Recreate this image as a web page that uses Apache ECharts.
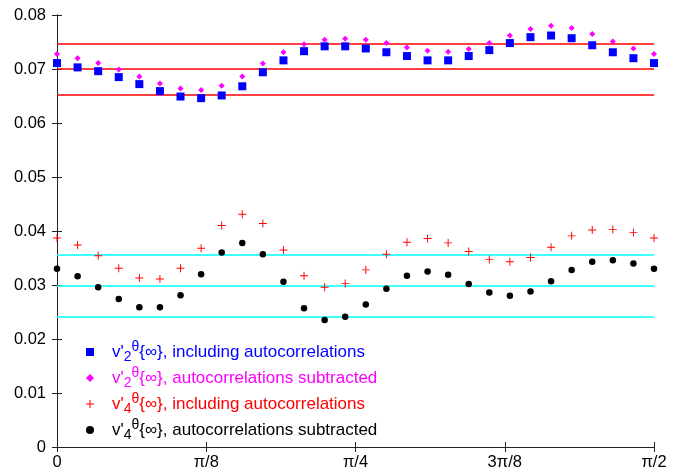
<!DOCTYPE html>
<html>
<head>
<meta charset="utf-8">
<script src="https://cdn.jsdelivr.net/npm/echarts@6/dist/echarts.min.js"></script>
<style>html,body{margin:0;padding:0;background:#fff}#c{width:676px;height:475px}</style>
</head>
<body>
<div id="c"></div>
<script>
// x tick labels (axis in units of pi/8)
var xTickLabels = ['0', 'π/8', 'π/4', '3π/8', 'π/2'];
var nPoints = 30;
// v'2 including autocorrelations (blue squares)
var v2Incl = [0.0711,0.0703,0.0696,0.0685,0.0672,0.0659,0.0649,0.0646,0.0651,0.0668,0.0694,0.0716,0.0733,0.0742,
              0.0742,0.0738,0.0731,0.0724,0.0716,0.0716,0.0724,0.0735,0.0748,0.0759,0.0762,0.0757,0.0744,0.0731,0.0720,0.0711];
// v'2 autocorrelations subtracted (magenta diamonds)
var v2Sub = [0.0728,0.0720,0.0711,0.0699,0.0686,0.0673,0.0664,0.0661,0.0669,0.0686,0.0710,0.0731,0.0746,0.0754,
             0.0756,0.0754,0.0748,0.0740,0.0734,0.0732,0.0737,0.0748,0.0762,0.0774,0.0780,0.0776,0.0765,0.0751,0.0738,0.0728];
// v'4 including autocorrelations (red crosses)
var v4Incl = [0.0387,0.0374,0.0354,0.0331,0.0313,0.0311,0.0331,0.0368,0.0410,0.0431,0.0414,0.0365,0.0317,0.0296,
              0.0303,0.0328,0.0357,0.0379,0.0386,0.0378,0.0362,0.0347,0.0343,0.0351,0.0370,0.0391,0.0402,0.0403,0.0397,0.0387];
// v'4 autocorrelations subtracted (black dots)
var v4Sub = [0.0330,0.0316,0.0296,0.0274,0.0259,0.0259,0.0281,0.0320,0.0360,0.0378,0.0357,0.0306,0.0257,0.0235,
             0.0241,0.0264,0.0293,0.0317,0.0325,0.0319,0.0302,0.0286,0.0280,0.0288,0.0307,0.0328,0.0343,0.0346,0.0340,0.0330];
// horizontal reference levels
var redLevels = [0.0747, 0.0700, 0.0652];
var cyanLevels = [0.0356, 0.0299, 0.0242];

var names = ['v2incl', 'v2sub', 'v4incl', 'v4sub'];
var legendText = {
  v2incl: "v'{sub|2}{sup|θ}{∞}, including autocorrelations",
  v2sub: "v'{sub|2}{sup|θ}{∞}, autocorrelations subtracted",
  v4incl: "v'{sub|4}{sup|θ}{∞}, including autocorrelations",
  v4sub: "v'{sub|4}{sup|θ}{∞}, autocorrelations subtracted"
};
var colors = {v2incl:'#0000ff', v2sub:'#ff00ff', v4incl:'#ff0000', v4sub:'#000000'};
var legendIcons = {v2incl:'rect', v2sub:'diamond', v4incl:'path://M4.35,0h1.3v10h-1.3zM0,4.35h10v1.3h-10z', v4sub:'circle'};
var plusPath = 'path://M4.4,0h1.2v10h-1.2zM0,4.4h10v1.2h-10z';

function pts(arr) {
  return arr.map(function (v, i) { return [i * 4 / (nPoints - 1), v]; });
}
function levelLines(levels, color) {
  return levels.map(function (v) { return {yAxis: v, lineStyle: {color: color, width: 1.7, type: 'solid'}}; });
}

var FONT = 'Liberation Sans';
var chart = echarts.init(document.getElementById('c'), null, {renderer: 'canvas'});
var axisLine = {show: true, lineStyle: {color: '#222', width: 1}};
var tick = {show: true, inside: true, length: 5, lineStyle: {color: '#222'}};
chart.setOption({
  animation: false,
  backgroundColor: '#fff',
  textStyle: {fontFamily: FONT},
  grid: {left: 57, right: 22, top: 15, bottom: 28},
  xAxis: [
    {type: 'value', min: 0, max: 4, interval: 1, position: 'bottom', axisLine: axisLine, axisTick: tick,
     splitLine: {show: false},
     axisLabel: {color: '#000', fontSize: 16.5, fontFamily: FONT, margin: 7,
       formatter: function (v) { return xTickLabels[Math.round(v)]; }}},
    {type: 'value', min: 0, max: 4, interval: 1, position: 'top', axisLine: axisLine, axisTick: tick,
     splitLine: {show: false}, axisLabel: {show: false}}
  ],
  yAxis: [
    {type: 'value', min: 0, max: 0.08, interval: 0.01, position: 'left', axisLine: axisLine, axisTick: tick,
     splitLine: {show: false},
     axisLabel: {color: '#000', fontSize: 16.5, fontFamily: FONT, margin: 11,
       formatter: function (v) { return v === 0 ? '0' : v.toFixed(2); }}},
    {type: 'value', min: 0, max: 0.08, interval: 0.01, position: 'right', axisLine: axisLine, axisTick: tick,
     splitLine: {show: false}, axisLabel: {show: false}}
  ],
  legend: {
    orient: 'vertical', left: 81, top: 335, itemGap: 2, itemWidth: 8, itemHeight: 8,
    data: names.map(function (n) { return {name: n, icon: legendIcons[n], itemStyle: {opacity: 1}, textStyle: {color: colors[n]}}; }),
    formatter: function (n) { return legendText[n]; },
    textStyle: {fontSize: 17, fontFamily: FONT, padding: [0, 0, 0, 13],
      rich: {
        sub: {fontSize: 14, fontFamily: FONT, padding: [10, 0, 0, 0]},
        sup: {fontSize: 14, fontFamily: FONT, padding: [0, 0, 10, 0]}
      }}
  },
  series: [
    {type: 'line', data: [], markLine: {silent: true, precision: 6, symbol: ['none','none'], label: {show: false},
      data: levelLines(redLevels, '#ff0000')}},
    {type: 'line', data: [], markLine: {silent: true, precision: 6, symbol: ['none','none'], label: {show: false},
      data: levelLines(cyanLevels, '#00ffff')}},
    {name: 'v2incl', type: 'scatter', data: pts(v2Incl), symbol: 'rect', symbolSize: 8,
     itemStyle: {color: colors.v2incl, opacity: 1}, z: 5},
    {name: 'v2sub', type: 'scatter', data: pts(v2Sub), symbol: 'diamond', symbolSize: 6,
     itemStyle: {color: colors.v2sub, opacity: 1}, z: 6},
    {name: 'v4incl', type: 'scatter', data: pts(v4Incl), symbol: plusPath, symbolSize: 8,
     itemStyle: {color: colors.v4incl, opacity: 1}, z: 6},
    {name: 'v4sub', type: 'scatter', data: pts(v4Sub), symbol: 'circle', symbolSize: 6.5,
     itemStyle: {color: colors.v4sub, opacity: 1}, z: 5}
  ]
});
</script>
</body>
</html>
